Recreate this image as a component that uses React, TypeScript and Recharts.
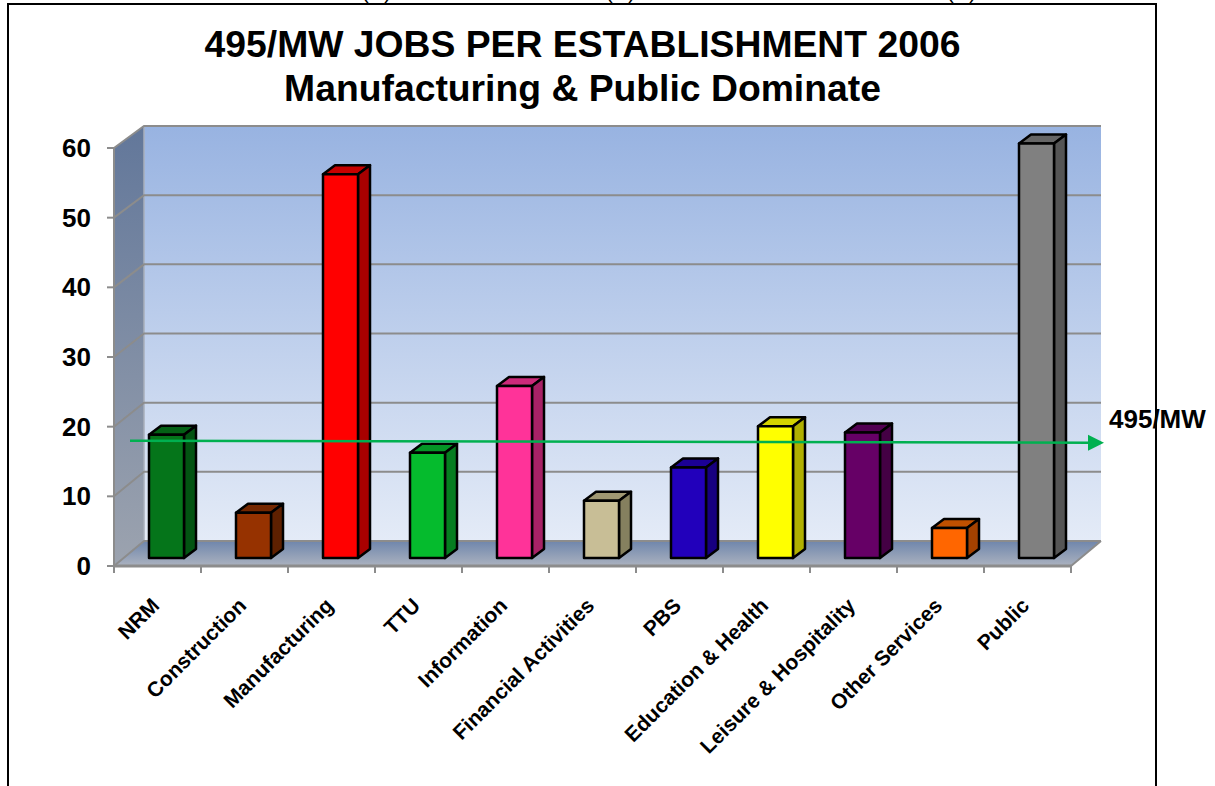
import React from "react";
import { BarChart, Bar, XAxis, YAxis, CartesianGrid, ReferenceLine, Cell } from "recharts";

const categories = ["NRM","Construction","Manufacturing","TTU","Information","Financial Activities","PBS","Education & Health","Leisure & Hospitality","Other Services","Public"];
const jobsPerEstablishment = [17.7,6.5,55.1,15.1,24.7,8.2,13.0,18.9,18.0,4.3,59.5];
const frontColors = ["#05751A","#963200","#FF0000","#05BB2D","#FF3399","#C8BE96","#2200BB","#FFFF00","#660066","#FF6600","#808080"];
const sideColors = ["#035412","#5E2000","#A80000","#067D20","#A82266","#85805F","#170080","#B0B000","#440044","#A34100","#555555"];
const topColors = ["#046015","#742700","#C80000","#059526","#CC2A7A","#A09872","#1B0095","#D4D400","#520052","#C05000","#666666"];
const yTicks = [0,10,20,30,40,50,60];
const regionAverage = 16.7;
const title = ["495/MW JOBS PER ESTABLISHMENT 2006","Manufacturing & Public Dominate"];
const lineLabel = "495/MW";
const cutOffMarks = [362, 606, 947];

const FONT = "'Liberation Sans', Arial, sans-serif";
const L = 114, R = 1071, T = 148, B = 566, DX = 30;
const WALL_TOP = 126, WALL_BOTTOM = 541;
const SHELF_SCALE = (WALL_BOTTOM - WALL_TOP) / (B - T);
const HALF_BAND = (R - L) / categories.length / 2;
const GRAY = "#8C8C8C";

const data = categories.map((name, i) => ({ name, value: jobsPerEstablishment[i] }));

function Backdrop() {
  return (
    <svg width={1215} height={786} style={{ position: "absolute", left: 0, top: 0 }}>
      <defs>
        <linearGradient id="wall" x1="0" y1="0" x2="0" y2="1">
          <stop offset="0" stopColor="#98B3E1" />
          <stop offset="1" stopColor="#E4EBF7" />
        </linearGradient>
        <linearGradient id="side" x1="0" y1="0" x2="0" y2="1">
          <stop offset="0" stopColor="#62779A" />
          <stop offset="1" stopColor="#9CA3AF" />
        </linearGradient>
        <linearGradient id="floor" x1="0" y1="0" x2="0" y2="1">
          <stop offset="0" stopColor="#6F86AC" />
          <stop offset="1" stopColor="#ABB2BF" />
        </linearGradient>
      </defs>
      <rect x={L + DX} y={WALL_TOP} width={R - L} height={WALL_BOTTOM - WALL_TOP} fill="url(#wall)" />
      <polygon points={`${L},${T} ${L + DX},${WALL_TOP} ${L + DX},${WALL_BOTTOM} ${L},${B}`} fill="url(#side)" />
      <polygon points={`${L},${B} ${L + DX},${WALL_BOTTOM} ${R + DX},${WALL_BOTTOM} ${R},${B}`} fill="url(#floor)" />
      <line x1={L + DX} y1={WALL_TOP} x2={L + DX} y2={WALL_BOTTOM} stroke="#A9AFBB" strokeWidth={1.5} />
      <line x1={R} y1={B} x2={R + DX} y2={WALL_BOTTOM} stroke={GRAY} strokeWidth={2} />
    </svg>
  );
}

const GridShelf = (p: any) => {
  const sy = WALL_BOTTOM - (B - p.y1) * SHELF_SCALE;
  return (
    <path d={`M${p.x1},${p.y1} L${p.x1 + DX},${sy} L${p.x2 + DX},${sy}`} fill="none" stroke={GRAY} strokeWidth={2} />
  );
};

const Bar3D = (p: any) => {
  const i = p.index;
  const bx = p.x + 9, by = p.y - 8, w = p.width, h = p.height;
  const dx = 12, dy = 9;
  return (
    <g stroke="#000" strokeWidth={2.5} strokeLinejoin="round">
      <polygon points={`${bx},${by} ${bx + dx},${by - dy} ${bx + w + dx},${by - dy} ${bx + w},${by}`} fill={topColors[i]} />
      <polygon points={`${bx + w},${by} ${bx + w + dx},${by - dy} ${bx + w + dx},${by + h - dy} ${bx + w},${by + h}`} fill={sideColors[i]} />
      <rect x={bx} y={by} width={w} height={h} fill={frontColors[i]} />
    </g>
  );
};

const XTick = (p: any) => (
  <g>
    <line x1={p.x - HALF_BAND} y1={B} x2={p.x - HALF_BAND} y2={B + 7} stroke={GRAY} strokeWidth={2} />
    {p.index === categories.length - 1 && (
      <line x1={p.x + HALF_BAND} y1={B} x2={p.x + HALF_BAND} y2={B + 7} stroke={GRAY} strokeWidth={2} />
    )}
    <text x={p.x + 3} y={607} textAnchor="end" transform={`rotate(-45 ${p.x + 3} 607)`} fontFamily={FONT} fontWeight="bold" fontSize={21} fill="#000">
      {p.payload.value}
    </text>
  </g>
);

const YTick = (p: any) => (
  <text x={91} y={p.y + 9} textAnchor="end" fontFamily={FONT} fontWeight="bold" fontSize={26} fill="#000">
    {p.payload.value}
  </text>
);

const AverageLine = (p: any) => {
  const y = p.y1 - 8;
  return (
    <g>
      <line x1={130} y1={y - 1} x2={1090} y2={y + 1} stroke="#00B050" strokeWidth={2.5} />
      <polygon points={`1088,${y - 7} 1104,${y + 1} 1088,${y + 9}`} fill="#00B050" />
    </g>
  );
};

export default function App() {
  return (
    <div style={{ position: "absolute", left: 0, top: 0, width: 1215, height: 786, background: "#fff", overflow: "hidden" }}>
      <Backdrop />
      <BarChart width={1215} height={786} data={data} margin={{ top: 148, right: 144, bottom: 120, left: 54 }} barSize={35} style={{ position: "absolute", left: 0, top: 0 }}>
        <CartesianGrid vertical={false} horizontal={GridShelf as any} />
        <XAxis dataKey="name" height={100} interval={0} tick={XTick as any} tickLine={false} axisLine={{ stroke: GRAY, strokeWidth: 3 }} />
        <YAxis width={60} domain={[0, 60]} ticks={yTicks} tick={YTick as any} tickLine={{ stroke: GRAY, strokeWidth: 2 }} tickSize={7} axisLine={{ stroke: GRAY, strokeWidth: 2 }} />
        <Bar dataKey="value" isAnimationActive={false} shape={Bar3D as any}>
          {data.map((d, i) => <Cell key={d.name} fill={frontColors[i]} />)}
        </Bar>
        <ReferenceLine y={regionAverage} shape={AverageLine as any} ifOverflow="visible" />
      </BarChart>
      <div style={{ position: "absolute", left: 0, top: 22, width: 1165, textAlign: "center", fontFamily: FONT, fontWeight: "bold", fontSize: 37.3, lineHeight: "44px", color: "#000" }}>
        {title.map(t => <div key={t}>{t}</div>)}
      </div>
      <div style={{ position: "absolute", left: 1109, top: 404, fontFamily: FONT, fontWeight: "bold", fontSize: 26, lineHeight: "30px", color: "#000" }}>{lineLabel}</div>
      {cutOffMarks.map(x => (
        <div key={x} style={{ position: "absolute", left: x, top: -19, fontFamily: FONT, fontSize: 20, lineHeight: "22px", letterSpacing: 5, color: "#000", whiteSpace: "pre" }}>{"( )"}</div>
      ))}
      <div style={{ position: "absolute", left: 7, top: 3, width: 1150, height: 800, border: "2.5px solid #000", boxSizing: "border-box", pointerEvents: "none" }} />
    </div>
  );
}
